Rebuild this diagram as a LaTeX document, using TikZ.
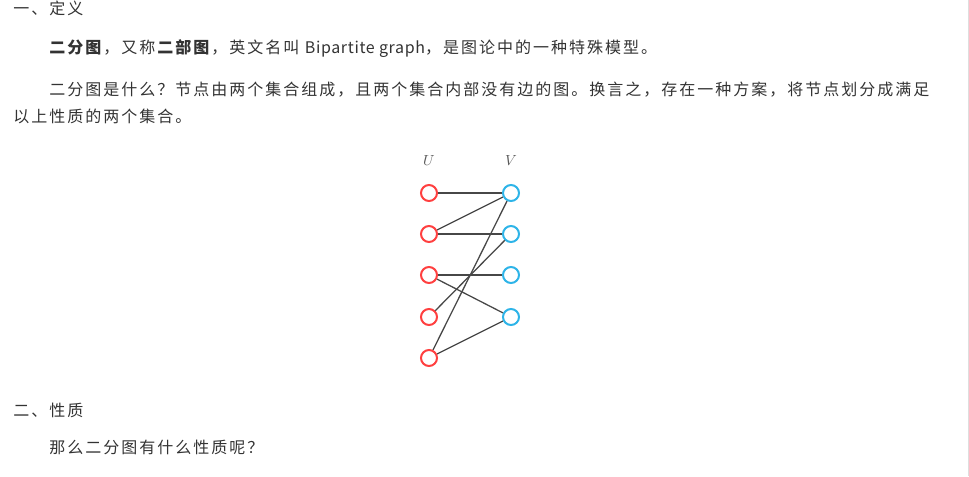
\documentclass[tikz,border=0pt]{standalone}
\usepackage{fontspec}
\setmainfont{Noto Sans CJK SC}[LetterSpace=12.5]
\newfontfamily\latinfont{Noto Sans CJK SC}[LetterSpace=4]

\definecolor{txtgray}{HTML}{333333}
\definecolor{ured}{HTML}{FF4040}
\definecolor{vblue}{HTML}{2EB4E8}
\definecolor{linkgray}{HTML}{474747}

\tikzset{
	para/.style={anchor=base west, inner sep=0pt, text=txtgray, font=\fontsize{12}{14}\selectfont},
	setlabel/.style={text=black!65, font=\fontsize{11}{13}\selectfont},
	unode/.style={circle, draw=ured, line width=1.5pt, minimum size=12pt, inner sep=0pt},
	vnode/.style={circle, draw=vblue, line width=1.5pt, minimum size=12pt, inner sep=0pt},
	link/.style={draw=linkgray, line width=.95pt}
}

\begin{document}
\begin{tikzpicture}[x=.75pt, y=-.75pt]
	\useasboundingbox (0,0) rectangle (969,476);
	\clip (0,0) rectangle (969,476);
	\draw[black!13] (968,0) -- (968,476);
	
	\node[para] (def) at (13,14) {一、定义};
	\node[para] (intro) at (49,53) {\textbf{二分图}，又称\textbf{二部图}，英文名叫 {\latinfont Bipartite graph}，是图论中的一种特殊模型。};
	\node[para] (what) at (49,95) {二分图是什么？节点由两个集合组成，且两个集合内部没有边的图。换言之，存在一种方案，将节点划分成满足};
	\node[para] (what2) at (13,122) {以上性质的两个集合。};
	\node[para] (prop) at (13,416) {二、性质};
	\node[para] (ask) at (49,453) {那么二分图有什么性质呢？};
	
	\node[setlabel] (U) at (429,161) {$U$};
	\node[setlabel] (V) at (511,161) {$V$};
	
	\node[unode] (u1) at (429,193) {};
	\node[unode] (u2) at (429,234) {};
	\node[unode] (u3) at (429,275) {};
	\node[unode] (u4) at (429,317) {};
	\node[unode] (u5) at (429,358) {};
	
	\node[vnode] (v1) at (511,193) {};
	\node[vnode] (v2) at (511,234) {};
	\node[vnode] (v3) at (511,275) {};
	\node[vnode] (v4) at (511,317) {};
	
	\draw[link] (u1) -- (v1);
	\draw[link] (u2) -- (v1);
	\draw[link] (u2) -- (v2);
	\draw[link] (u3) -- (v3);
	\draw[link] (u3) -- (v4);
	\draw[link] (u4) -- (v2);
	\draw[link] (u5) -- (v1);
	\draw[link] (u5) -- (v4);
\end{tikzpicture}
\end{document}
